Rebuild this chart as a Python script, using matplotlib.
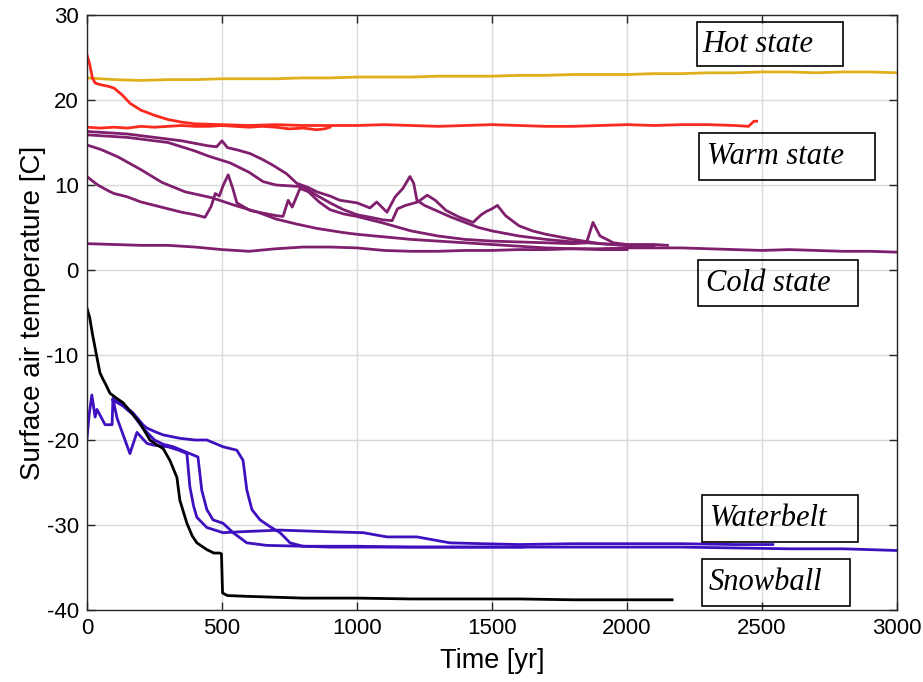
import matplotlib as mpl
import matplotlib.pyplot as plt
from matplotlib.patches import Rectangle

OUT_PNG = "out.png"

# ---- data (time in yr, temperature in C) ----
hot_t = list(range(0, 3001, 100))
hot_T = [22.6, 22.4, 22.3, 22.4, 22.4, 22.5, 22.5, 22.5, 22.6, 22.6, 22.7,
         22.7, 22.7, 22.8, 22.8, 22.8, 22.9, 22.9, 23.0, 23.0, 23.0,
         23.1, 23.1, 23.2, 23.2, 23.3, 23.3, 23.2, 23.3, 23.3, 23.2]

warm1_t = [0, 10, 20, 30, 50, 80, 100, 130, 160, 200, 250, 300, 350, 400, 500,
           600, 700, 800, 900, 1000, 1100, 1200, 1300, 1400, 1500, 1600, 1700,
           1800, 1900, 2000, 2100, 2200, 2300, 2400, 2450, 2470, 2480]
warm1_T = [25.3, 24.2, 22.6, 22.0, 21.8, 21.6, 21.4, 20.6, 19.6, 18.8, 18.2,
           17.7, 17.4, 17.2, 17.1, 17.0, 17.1, 17.0, 17.0, 17.0, 17.1, 17.0,
           16.9, 17.0, 17.1, 17.0, 16.9, 16.9, 17.0, 17.1, 17.0, 17.1, 17.1,
           17.0, 16.9, 17.5, 17.5]

warm2_t = [0, 50, 100, 150, 200, 250, 300, 350, 400, 450, 500, 550, 600, 650,
           700, 750, 800, 850, 880, 900]
warm2_T = [16.8, 16.7, 16.8, 16.7, 16.9, 16.8, 16.9, 17.0, 16.9, 16.9, 17.0,
           16.9, 16.8, 16.9, 16.8, 16.6, 16.7, 16.5, 16.6, 16.8]

cold1_t = [0, 50, 100, 150, 200, 250, 300, 350, 400, 450, 480, 500, 520, 560,
           604, 650, 690, 740, 777, 820, 851, 900, 937, 1000, 1048, 1073, 1111,
           1141, 1170, 1196, 1210, 1222, 1250, 1300, 1350, 1400, 1450, 1500,
           1600, 1700, 1800, 1900, 2000, 2100]
cold1_T = [16.3, 16.2, 16.1, 16.0, 15.8, 15.6, 15.4, 15.2, 14.9, 14.6, 14.5,
           15.2, 14.4, 14.1, 13.7, 13.0, 12.3, 11.3, 10.2, 9.7, 9.2, 8.7, 8.2,
           7.9, 7.3, 8.0, 6.8, 8.6, 9.6, 11.0, 10.2, 8.2, 7.6, 6.9, 6.2, 5.6,
           5.0, 4.6, 4.0, 3.6, 3.3, 3.1, 2.9, 2.8]

cold2_t = [0, 50, 100, 150, 200, 250, 300, 350, 400, 450, 500, 530, 600, 652,
           700, 750, 800, 850, 900, 950, 1000, 1050, 1096, 1130, 1150, 1180,
           1225, 1260, 1290, 1330, 1380, 1430, 1460, 1480, 1500, 1520, 1550,
           1600, 1650, 1700, 1800, 1900, 2000, 2070]
cold2_T = [15.9, 15.8, 15.7, 15.6, 15.4, 15.2, 15.0, 14.5, 14.0, 13.4, 12.9,
           12.6, 11.5, 10.4, 10.0, 9.9, 9.8, 8.8, 7.9, 7.1, 6.5, 6.2, 5.9, 5.8,
           7.2, 7.6, 8.0, 8.8, 8.2, 7.0, 6.2, 5.6, 6.5, 6.9, 7.2, 7.6, 6.4, 5.2,
           4.6, 4.2, 3.6, 3.1, 2.9, 2.7]

cold3_t = [0, 15, 40, 80, 100, 150, 200, 250, 300, 350, 400, 437, 460, 475,
           490, 505, 523, 540, 555, 604, 650, 700, 726, 745, 760, 789, 820, 860,
           900, 950, 1000, 1100, 1200, 1300, 1400, 1500, 1600, 1700, 1800,
           1850, 1874, 1900, 1950, 2000, 2100, 2150]
cold3_T = [11.0, 10.6, 10.0, 9.3, 9.0, 8.6, 8.0, 7.6, 7.2, 6.8, 6.5, 6.2, 7.5,
           9.0, 8.7, 10.0, 11.2, 9.6, 7.9, 7.0, 6.7, 6.4, 6.3, 8.2, 7.4, 9.6,
           9.2, 8.0, 7.1, 6.6, 6.3, 5.5, 4.6, 4.0, 3.6, 3.4, 3.3, 3.2, 3.1, 3.2,
           5.6, 4.0, 3.2, 3.0, 3.0, 2.9]

cold4_t = [0, 50, 115, 200, 278, 363, 463, 548, 633, 700, 777, 850, 950, 1000,
           1100, 1200, 1300, 1400, 1500, 1600, 1700, 1800, 1900, 2000]
cold4_T = [14.7, 14.2, 13.3, 11.8, 10.3, 9.2, 8.5, 7.6, 6.8, 6.0, 5.4, 4.9,
           4.4, 4.2, 3.9, 3.6, 3.4, 3.2, 3.0, 2.8, 2.6, 2.5, 2.4, 2.4]

cold5_t = list(range(0, 3001, 100))
cold5_T = [3.1, 3.0, 2.9, 2.9, 2.7, 2.4, 2.2, 2.5, 2.7, 2.7, 2.6, 2.3, 2.2,
           2.2, 2.3, 2.3, 2.4, 2.4, 2.5, 2.5, 2.6, 2.6, 2.6, 2.5, 2.4, 2.3,
           2.4, 2.3, 2.2, 2.2, 2.1]

belt1_t = [96, 133, 170, 207, 222, 250, 282, 344, 400, 444, 504, 555, 578, 592,
           611, 641, 678, 715, 752, 800, 900, 1000, 1100, 1200, 1300, 1400,
           1500, 1615]
belt1_T = [-15.2, -15.9, -16.8, -18.2, -18.6, -19.0, -19.4, -19.8, -20.0,
           -20.0, -20.8, -21.2, -22.4, -25.9, -28.2, -29.4, -30.2, -30.9,
           -32.1, -32.5, -32.6, -32.6, -32.6, -32.6, -32.6, -32.6, -32.6, -32.6]

belt2_t = [96, 133, 170, 207, 250, 282, 320, 381, 411, 425, 444, 467, 504,
           541, 592, 666, 800, 1000, 1200, 1400, 1600, 1800, 2000, 2200, 2400,
           2600, 2800, 3000]
belt2_T = [-15.3, -16.0, -17.0, -18.6, -20.0, -20.5, -20.8, -21.6, -22.0,
           -25.9, -28.2, -29.4, -29.8, -30.9, -32.1, -32.4, -32.5, -32.5,
           -32.6, -32.6, -32.6, -32.6, -32.6, -32.6, -32.7, -32.8, -32.8, -33.0]

belt3_t = [0, 8, 18, 30, 37, 67, 93, 96, 111, 159, 185, 222, 246, 300, 340,
           370, 381, 395, 407, 444, 504, 567, 715, 900, 1022, 1111, 1222, 1344,
           1467, 1600, 1800, 2000, 2200, 2400, 2540]
belt3_T = [-19.8, -17.0, -14.7, -17.3, -16.4, -18.2, -18.2, -15.1, -17.4,
           -21.6, -19.1, -20.4, -20.6, -20.8, -21.2, -21.6, -25.5, -27.8,
           -29.1, -30.3, -30.9, -30.8, -30.6, -30.8, -30.9, -31.4, -31.4,
           -32.1, -32.2, -32.3, -32.2, -32.2, -32.2, -32.3, -32.3]

snow_t = [0, 10, 20, 35, 48, 60, 70, 85, 110, 133, 160, 196, 233, 260, 282,
          307, 333, 344, 370, 390, 407, 444, 470, 492, 498, 502, 520, 600, 800,
          1000, 1200, 1400, 1600, 1800, 2000, 2167]
snow_T = [-4.5, -5.6, -7.5, -10.0, -12.1, -12.9, -13.5, -14.5, -15.1, -15.6,
          -16.6, -18.0, -20.0, -20.6, -21.0, -22.4, -24.4, -27.1, -29.8, -31.3,
          -32.1, -32.9, -33.3, -33.3, -33.4, -38.0, -38.3, -38.4, -38.6, -38.6,
          -38.7, -38.7, -38.7, -38.8, -38.8, -38.8]

labels = ["Hot state", "Warm state", "Cold state", "Waterbelt", "Snowball"]

###############  OUTPUT  #################
mpl.rcParams.update({
    "font.family": ["Liberation Sans", "DejaVu Sans"],
    "font.size": 16,
    "axes.linewidth": 1.0,
    "axes.edgecolor": "#262626",
    "axes.unicode_minus": False,
})

COL_HOT = "#DFB01C"
COL_WARM = "#FB2A1E"
COL_COLD = "#7F1F6E"
COL_BELT = "#3F10C0"
COL_SNOW = "#000000"
LW = 2.0

fig = plt.figure(figsize=(9.23, 6.82), dpi=100)
ax = fig.add_axes([87 / 923, 1 - 610 / 682, 810 / 923, 595 / 682])

ax.plot(hot_t, hot_T, color=COL_HOT, lw=LW)
for t, T in [(warm2_t, warm2_T), (warm1_t, warm1_T)]:
    ax.plot(t, T, color=COL_WARM, lw=LW)
for t, T in [(cold5_t, cold5_T), (cold4_t, cold4_T), (cold3_t, cold3_T),
             (cold2_t, cold2_T), (cold1_t, cold1_T)]:
    ax.plot(t, T, color=COL_COLD, lw=LW)
for t, T in [(belt1_t, belt1_T), (belt2_t, belt2_T), (belt3_t, belt3_T)]:
    ax.plot(t, T, color=COL_BELT, lw=LW)
ax.plot(snow_t, snow_T, color=COL_SNOW, lw=LW)

ax.set_xlim(0, 3000)
ax.set_ylim(-40, 30)
ax.set_xticks(range(0, 3001, 500))
ax.set_yticks(range(-40, 31, 10))
ax.grid(True, color="#DADADA", lw=1.0)
ax.set_axisbelow(True)
ax.tick_params(direction="in", length=6, width=1.0, color="#262626",
               top=True, right=True, labelsize=16, pad=6)

ax.set_xlabel("Time [yr]", fontsize=19.5, labelpad=6)
ax.set_ylabel("Surface air temperature [C]", fontsize=20, labelpad=0)

# state label boxes (pixel layout from the reference)
boxes = [(697, 22, 843, 66, 702), (699, 133, 875, 180, 707),
         (698, 260, 858, 306, 706), (702, 495, 858, 542, 710),
         (702, 559, 850, 606, 709)]
for lab, (x0, y0, x1, y1, xt) in zip(labels, boxes):
    fig.add_artist(Rectangle((x0 / 923, 1 - y1 / 682), (x1 - x0) / 923,
                             (y1 - y0) / 682, transform=fig.transFigure,
                             fill=False, ec="black", lw=1.2))
    fig.text(xt / 923, 1 - (y0 + y1) / 2 / 682, lab, fontsize=22,
             family=["Liberation Serif", "DejaVu Serif"], style="italic",
             ha="left", va="center")

fig.savefig(OUT_PNG, dpi=100)
plt.close(fig)
